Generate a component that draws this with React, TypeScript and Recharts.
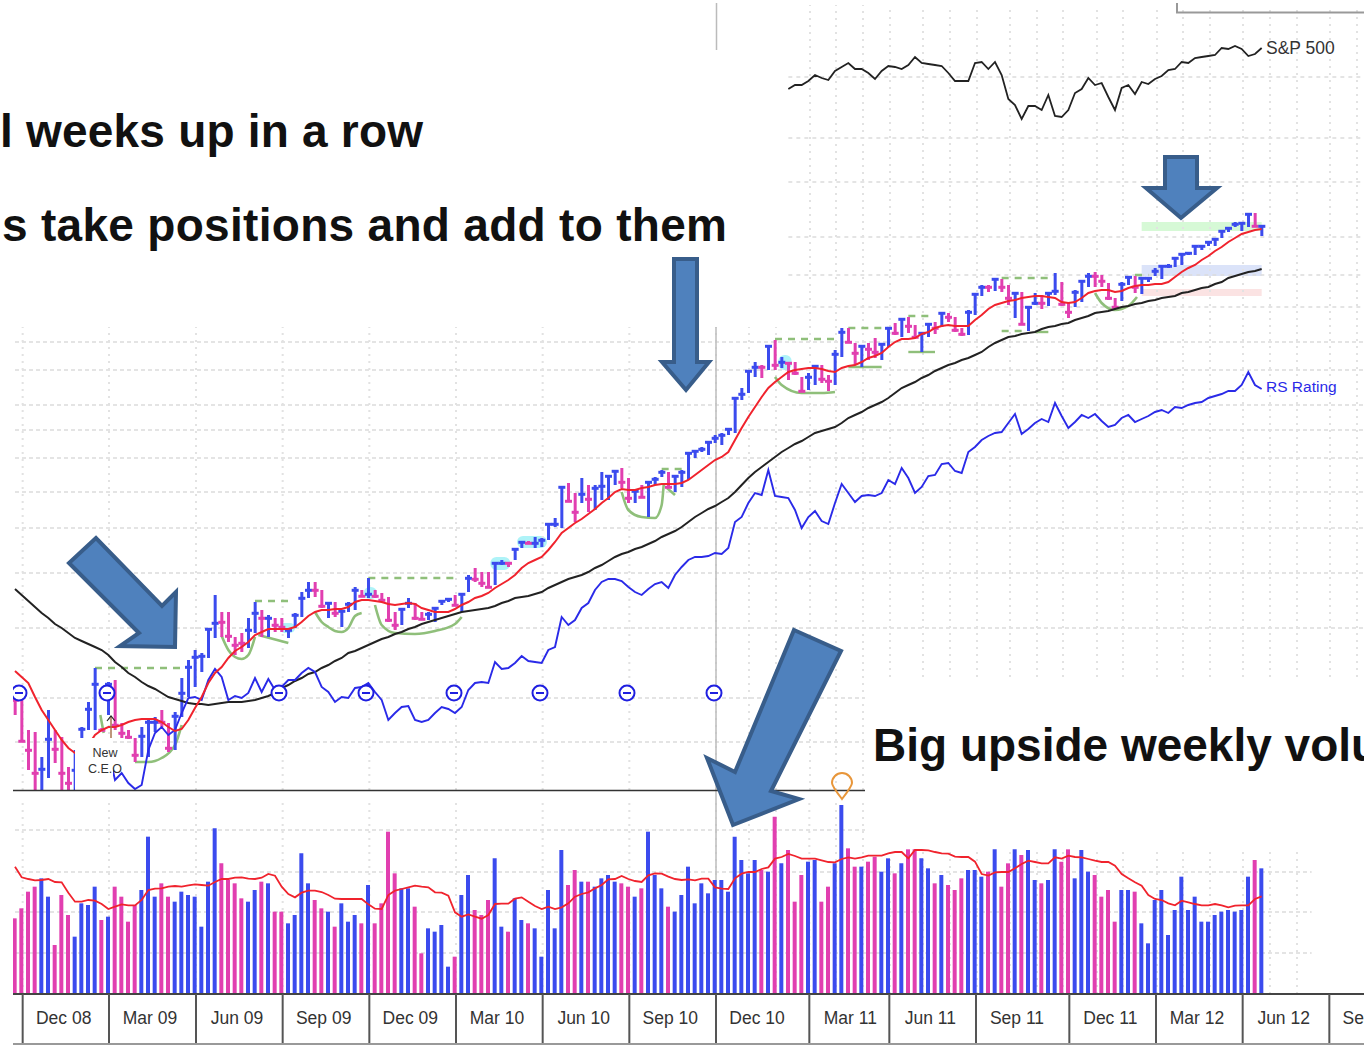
import { Bar, Cell, ComposedChart, Line, ReferenceArea, ReferenceDot, ReferenceLine, XAxis, YAxis } from "recharts";

// weekly price bars, one entry per week from late Nov 08 to May 12
const highs = [
  97, 93, 60, 58, 33, 80, 60, 53, 23, 40,
  63, 88, 122, 62, 108, 110, 67, 60, 52, 63,
  72, 73, 80, 67, 78, 112, 130, 140, 137, 162,
  195, 178, 178, 153, 157, 172, 188, 180, 175, 172,
  172, 162, 177, 198, 208, 208, 200, 188, 188, 180,
  188, 203, 200, 212, 200, 197, 193, 178, 182, 192,
  187, 178, 178, 183, 190, 192, 195, 197, 215, 222,
  218, 218, 228, 230, 228, 242, 249, 249, 253, 252,
  267, 272, 303, 307, 297, 312, 305, 305, 318, 315,
  320, 322, 312, 300, 305, 308, 313, 320, 318, 315,
  320, 337, 340, 343, 349, 355, 357, 362, 393, 402,
  420, 428, 425, 445, 450, 433, 428, 428, 413, 417,
  425, 425, 415, 440, 462, 462, 447, 445, 447, 452,
  447, 463, 467, 472, 473, 465, 458, 467, 468, 478,
  477, 473, 462, 480, 497, 505, 505, 512, 511, 505,
  498, 498, 483, 497, 495, 498, 517, 508, 488, 500,
  510, 517, 518, 515, 507, 492, 508, 514, 514, 513,
  513, 522, 525, 526, 533, 537, 538, 545, 545, 549,
  552, 560, 563, 568, 567, 577, 577, 565,
];
const lows = [
  75, 48, 20, 0, 0, 12, 27, 0, 0, 0,
  45, 60, 60, 59, 75, 60, 52, 51, 28, 33,
  33, 58, 63, 38, 40, 73, 93, 103, 118, 132,
  152, 153, 148, 135, 138, 142, 157, 153, 153, 158,
  158, 152, 162, 173, 192, 193, 182, 172, 173, 163,
  178, 180, 193, 192, 192, 188, 168, 160, 165, 182,
  170, 170, 170, 168, 185, 188, 184, 178, 198, 208,
  203, 202, 205, 225, 223, 230, 242, 246, 242, 243,
  250, 263, 262, 288, 268, 287, 278, 280, 290, 290,
  305, 302, 287, 287, 292, 273, 305, 313, 302, 298,
  303, 310, 332, 338, 335, 347, 345, 355, 357, 390,
  397, 413, 412, 420, 420, 422, 410, 415, 398, 400,
  405, 407, 399, 405, 433, 447, 425, 423, 430, 432,
  430, 443, 455, 453, 457, 452, 438, 453, 456, 463,
  468, 458, 454, 455, 475, 494, 498, 499, 498, 485,
  472, 465, 459, 485, 481, 484, 495, 484, 472, 483,
  488, 503, 503, 503, 490, 483, 489, 505, 497, 496,
  508, 514, 511, 522, 523, 525, 535, 535, 540, 544,
  544, 552, 558, 563, 559, 563, 563, 554,
];
const closes = [
  90, 49, 40, 17, 21, 51, 41, 17, 7, 20,
  61, 81, 106, 60, 106, 65, 57, 53, 35, 54,
  68, 68, 68, 42, 74, 97, 123, 133, 134, 161,
  167, 168, 154, 145, 147, 160, 177, 172, 172, 165,
  163, 160, 175, 192, 200, 200, 184, 187, 177, 179,
  186, 200, 194, 196, 194, 190, 170, 165, 181, 187,
  172, 171, 176, 182, 189, 191, 185, 196, 212, 211,
  207, 203, 227, 227, 227, 241, 248, 247, 247, 250,
  266, 266, 303, 289, 278, 296, 291, 302, 304, 314,
  319, 308, 292, 299, 293, 308, 311, 318, 303, 314,
  318, 337, 339, 341, 348, 352, 355, 361, 392, 396,
  419, 423, 423, 444, 425, 428, 427, 417, 399, 413,
  424, 411, 409, 436, 458, 448, 437, 444, 441, 438,
  446, 462, 457, 471, 464, 453, 457, 466, 462, 477,
  473, 460, 456, 478, 496, 503, 503, 511, 503, 492,
  497, 466, 483, 487, 487, 497, 499, 486, 478, 498,
  509, 514, 514, 509, 492, 483, 506, 513, 503, 512,
  512, 519, 524, 524, 532, 536, 537, 544, 544, 548,
  551, 559, 562, 566, 567, 576, 564, 564,
];
// u = up week (blue), d = down week (pink)
const weekDirections = (
  "dddduudddu" + "uuududdddu" + "uudduuuuuu" + "udddduudud" + "duuuuddudu" +
  "uududddduu" + "dduuuuduud" + "dduuduuduu" + "uuudduduuu" + "udduduuudu" +
  "uuuuuuuuuu" + "uudududddu" + "udduuddudd" + "uududduudu" + "ddduuududd" +
  "uduuduuddu" + "uudddduudu" + "uuuuuuuuuu" + "uuuuuudu"
).split("");

const redAverage = [
  119, 113, 107, 93, 80, 70, 60, 50, 42, 37,
  38, 45, 55, 60, 63, 63, 65, 68, 70, 71,
  71, 71, 68, 63, 59, 61, 70, 82, 93, 107,
  117, 123, 132, 139, 143, 148, 155, 158, 161, 161,
  161, 161, 163, 168, 174, 178, 180, 180, 181, 181,
  183, 188, 190, 190, 189, 188, 186, 185, 186, 187,
  186, 182, 180, 178, 178, 178, 181, 185, 188, 192,
  194, 197, 202, 206, 210, 215, 222, 227, 230, 233,
  240, 248, 257, 262, 267, 271, 276, 281, 287, 292,
  298, 301, 300, 300, 302, 303, 305, 306, 306, 306,
  307, 310, 315, 320, 325, 330, 333, 338, 350, 362,
  373, 383, 393, 402, 408, 413, 418, 420, 421, 422,
  422, 421, 419, 418, 422, 424, 425, 428, 432, 434,
  437, 443, 448, 451, 451, 452, 456, 458, 462, 464,
  465, 464, 464, 464, 470, 475, 481, 485, 487, 489,
  490, 492, 493, 494, 494, 493, 492, 488, 487, 488,
  492, 497, 499, 500, 500, 498, 499, 502, 504, 505,
  505, 506, 506, 508, 513, 518, 522, 525, 530, 534,
  539, 543, 548, 552, 556, 558, 560, 561,
];
const blackAverage = [
  201, 195, 189, 183, 177, 172, 166, 162, 157, 152,
  149, 146, 143, 140, 135, 128, 123, 117, 113, 108,
  104, 101, 97, 93, 91, 89, 87, 86, 86, 85,
  86, 87, 88, 88, 88, 89, 90, 92, 94, 97,
  102, 105, 109, 112, 116, 118, 122, 125, 129, 132,
  137, 139, 142, 145, 148, 151, 153, 156, 158, 161,
  163, 166, 168, 170, 172, 174, 176, 178, 179, 180,
  181, 182, 184, 187, 189, 192, 193, 194, 196, 198,
  202, 205, 208, 211, 213, 215, 218, 222, 225, 229,
  233, 236, 238, 241, 243, 246, 249, 253, 256, 259,
  263, 268, 273, 277, 281, 284, 288, 292, 298, 305,
  312, 318, 323, 328, 333, 338, 342, 346, 349, 353,
  357, 359, 361, 363, 367, 372, 375, 378, 382, 385,
  388, 392, 397, 402, 405, 408, 412, 415, 419, 422,
  425, 427, 430, 432, 435, 438, 443, 447, 450, 453,
  454, 456, 457, 458, 461, 463, 464, 466, 467, 470,
  472, 474, 477, 478, 479, 481, 483, 484, 486, 487,
  489, 490, 492, 493, 494, 497, 498, 500, 502, 503,
  506, 508, 512, 514, 516, 518, 519, 521,
];
const rsRating = [
  null, null, null, null, null, null, null, null, null, 0,
  17, 30, 40, 45, 40, 10, 17, 7, 1, 5,
  40, 57, 63, 55, 60, 77, 92, 93, 90, 110,
  121, 113, 90, 94, 92, 97, 112, 98, 111, 100,
  103, 110, 110, 117, 122, 118, 103, 98, 88, 93,
  92, 102, 103, 107, 98, 90, 70, 77, 83, 84,
  70, 68, 70, 77, 83, 81, 77, 83, 100, 107,
  108, 107, 128, 121, 122, 127, 134, 129, 128, 127,
  140, 143, 173, 165, 170, 182, 187, 200, 208, 211,
  211, 209, 203, 198, 195, 201, 206, 208, 202, 215,
  223, 230, 233, 233, 234, 237, 236, 242, 268, 273,
  287, 297, 295, 320, 294, 293, 292, 280, 262, 273,
  279, 269, 266, 287, 306, 297, 288, 294, 295, 294,
  297, 310, 306, 322, 312, 297, 303, 314, 315, 326,
  327, 319, 317, 338, 343, 350, 354, 357, 358, 367,
  376, 356, 361, 367, 371, 368, 387, 374, 362, 368,
  375, 372, 376, 369, 363, 365, 372, 375, 368, 371,
  374, 378, 380, 377, 383, 382, 385, 387, 388, 392,
  394, 396, 399, 399, 405, 418, 405, 401,
];
const spxWeeksMissing = 116;
const spxValues = [
  701, 705, 705, 709, 715, 712, 710, 719, 723, 727,
  721, 721, 717, 711, 719, 724, 723, 721, 725, 733,
  727, 726, 725, 724, 717, 709, 709, 709, 727, 728,
  721, 728, 715, 691, 685, 671, 684, 684, 680, 695,
  674, 673, 680, 697, 701, 712, 705, 707, 693, 680,
  702, 705, 696, 708, 706, 711, 714, 720, 721, 728,
  727, 732, 733, 734, 735, 742, 741, 744, 741, 734,
  736, 742,
];
const volumes = [
  227, 257, 307, 322, 347, 292, 147, 297, 237, 172,
  272, 267, 322, 222, 232, 322, 292, 217, 267, 312,
  472, 292, 332, 292, 277, 307, 297, 292, 202, 337,
  497, 392, 342, 332, 287, 277, 312, 337, 332, 247,
  247, 212, 237, 422, 332, 282, 257, 247, 202, 272,
  217, 237, 212, 327, 212, 272, 487, 362, 317, 317,
  262, 122, 197, 187, 207, 82, 112, 297, 357, 252,
  237, 282, 407, 202, 187, 287, 222, 212, 197, 112,
  312, 197, 432, 327, 372, 337, 337, 322, 347, 357,
  337, 332, 322, 292, 317, 487, 357, 317, 262, 247,
  297, 382, 272, 332, 302, 342, 342, 307, 472, 402,
  362, 402, 372, 367, 532, 392, 432, 277, 357, 397,
  402, 277, 322, 392, 567, 437, 382, 382, 397, 412,
  367, 407, 362, 392, 434, 434, 407, 377, 332, 357,
  327, 312, 347, 372, 372, 352, 367, 434, 322, 392,
  434, 417, 432, 342, 332, 342, 434, 397, 434, 347,
  432, 367, 357, 292, 312, 217, 312, 312, 307, 212,
  152, 282, 312, 177, 252, 352, 252, 292, 217, 217,
  237, 247, 252, 247, 252, 352, 402, 377,
];
const volumeAverage = [
  382, 350, 345, 341, 342, 345, 336, 335, 304, 277,
  277, 282, 280, 270, 255, 262, 269, 266, 266, 282,
  312, 316, 317, 322, 324, 322, 326, 329, 327, 325,
  336, 345, 345, 349, 350, 346, 345, 349, 360, 355,
  322, 300, 290, 304, 310, 310, 306, 297, 286, 285,
  285, 285, 285, 269, 256, 255, 297, 310, 315, 320,
  325, 322, 320, 305, 304, 295, 245, 232, 239, 232,
  226, 237, 270, 271, 271, 286, 290, 277, 264, 255,
  262, 255, 260, 272, 292, 300, 305, 317, 327, 344,
  345, 354, 345, 339, 336, 356, 362, 361, 352, 345,
  342, 344, 341, 346, 346, 320, 316, 315, 347, 361,
  366, 366, 375, 380, 406, 411, 420, 414, 406, 406,
  406, 401, 396, 395, 405, 410, 406, 410, 415, 415,
  415, 422, 426, 426, 407, 432, 432, 431, 426, 422,
  421, 412, 411, 411, 397, 360, 355, 365, 366, 366,
  377, 390, 400, 396, 392, 392, 410, 406, 415, 411,
  410, 405, 400, 396, 396, 385, 360, 347, 335, 325,
  297, 285, 282, 272, 266, 280, 275, 270, 266, 266,
  270, 266, 260, 265, 266, 266, 285, 293,
];

const tickLabels = ["Dec 08", "Mar 09", "Jun 09", "Sep 09", "Dec 09", "Mar 10", "Jun 10", "Sep 10", "Dec 10", "Mar 11", "Jun 11", "Sep 11", "Dec 11", "Mar 12", "Jun 12", "Sep 12"];
const tickWeeks = [1.15, 14.1, 27.15, 40.15, 53.15, 66.15, 79.15, 92.15, 105.15, 119.15, 131.15, 144.15, 158.15, 171.15, 184.15, 197.15];
const midMonthWeeks = [110.1, 114.15];
const monthWeeks = [119.25, 123.15, 127.2, 131.25, 136.2, 140.25, 144.3, 149.25, 153.3, 157.2, 162.3, 166.2, 171.3, 175.2, 179.25, 184.2, 188.25, 192.3, 197.25, 201.3];
const eventWeeks = [0.6, 13.8, 39.6, 52.65, 65.85, 78.75, 91.8, 104.85];

const upperGridLevels = [713, 652, 608, 553, 515, 483];
const middleGridLevels = [448, 420, 385, 360, 332, 298, 262, 217, 162];
const lowerGridLevels = [92, 48];
const volumeGridUpper = [492];
const volumeGridLower = [366, 246, 123];

const cupOne = [{ week: 18, v: 28 }, { week: 20, v: 28 }, { week: 22, v: 32 }, { week: 24, v: 45 }, { week: 25, v: 65 }];
const cupTwo = [{ week: 31, v: 154 }, { week: 32, v: 140 }, { week: 33, v: 133 }, { week: 34, v: 131 }, { week: 35, v: 135 }, { week: 36, v: 153 }];
const handleTwo = [{ week: 36.5, v: 155 }, { week: 41, v: 147 }];
const cupThree = [{ week: 45, v: 178 }, { week: 46, v: 168 }, { week: 47, v: 163 }, { week: 48, v: 159 }, { week: 49, v: 158 }, { week: 50, v: 162 }, { week: 51, v: 174 }, { week: 52, v: 177 }];
const cupFour = [{ week: 54, v: 185 }, { week: 55, v: 165 }, { week: 57, v: 157 }, { week: 60, v: 156 }, { week: 63, v: 159 }, { week: 66, v: 166 }, { week: 67, v: 173 }];
const cupFive = [{ week: 91, v: 298 }, { week: 92, v: 280 }, { week: 94, v: 273 }, { week: 96, v: 272 }, { week: 97, v: 285 }, { week: 97.3, v: 305 }];
const handleFive = [{ week: 97.8, v: 302 }, { week: 99, v: 295 }];
const cupSix = [{ week: 114, v: 413 }, { week: 115, v: 405 }, { week: 118, v: 397 }, { week: 121, v: 397 }, { week: 123, v: 398 }];
const cupSeven = [{ week: 162, v: 497 }, { week: 163, v: 487 }, { week: 165, v: 480 }, { week: 167, v: 484 }, { week: 168.3, v: 493 }];
const handleOne = [{ week: 12.8, v: 75 }, { week: 13.3, v: 57 }];
const cups = [cupOne, cupTwo, handleTwo, cupThree, cupFour, cupFive, handleFive, cupSix, cupSeven, handleOne];

// [from week, to week, level]
const dashedBases: number[][] = [[12, 25, 122], [36, 41, 189], [53, 66, 212], [97, 100, 321], [114, 123.5, 451], [125, 131, 462], [134, 137, 474], [148, 155, 512], [148, 151, 459], [168, 170, 515]];
const solidBases: number[][] = [[125, 130, 423], [134, 138, 438], [153, 155, 458]];
// [from week, to week, low, high]
const highlightZones: number[][] = [[71.3, 74.3, 220, 233], [75.3, 79.8, 242, 254], [52.3, 54.3, 191, 203], [114.5, 116.5, 420, 435], [39.7, 42, 157, 167]];

const BLUE = "#3b4bee";
const PINK = "#e13fb0";
const GREEN = "#8fbf7a";
const GRID_H = "#dcdcdc";
const GRID_V = "#e2e2e2";
const X_DOMAIN = [-2.25, 202.35];
const PRICE_DOMAIN = [-204, 790];
const VOLUME_DOMAIN = [0, 2982];

const weekTable = highs.map((high, i) => ({
  week: i,
  range: [lows[i], high],
  high,
  low: lows[i],
  close: closes[i],
  direction: weekDirections[i],
  red: redAverage[i],
  black: blackAverage[i],
  rs: rsRating[i],
  spx: i < spxWeeksMissing ? null : spxValues[i - spxWeeksMissing],
  volume: volumes[i],
  volumeAvg: volumeAverage[i],
}));

function PriceBar(props: any) {
  const { x, y, width, height, payload } = props;
  const color = payload.direction === "u" ? BLUE : PINK;
  const span = payload.high - payload.low || 1;
  const closeY = y + ((payload.high - payload.close) / span) * Math.abs(height);
  return (
    <g>
      <rect x={x} y={y} width={width} height={Math.max(Math.abs(height), 2)} fill={color} />
      <rect x={x - 2} y={closeY - 1.2} width={width + 4} height={3} fill={color} />
    </g>
  );
}

function QuarterTick(props: any) {
  const { x, payload } = props;
  const label = tickLabels[tickWeeks.indexOf(payload.value)];
  return (
    <g>
      <line x1={x} x2={x} y1={994} y2={1045} stroke="#555" strokeWidth={2} />
      <text x={x + 41} y={1024} textAnchor="middle" fontFamily="Liberation Sans" fontSize={17.5} fill="#333">
        {label}
      </text>
    </g>
  );
}

function EventDot(props: any) {
  const { cx, cy } = props;
  return (
    <g>
      <circle cx={cx} cy={cy} r={7.5} fill="#fff" stroke="#1f1fe0" strokeWidth={2} />
      <rect x={cx - 4} y={cy - 1} width={8} height={2} fill="#1f1fe0" />
    </g>
  );
}

// grid, zones and base markings sit under the bars, so they get their own chart below
function BackgroundChart() {
  return (
    <ComposedChart width={1364} height={1045} data={weekTable} margin={{ top: 0, right: 0, bottom: 51, left: 0 }}>
      <XAxis type="number" dataKey="week" domain={X_DOMAIN} allowDataOverflow hide />
      <YAxis yAxisId="price" domain={PRICE_DOMAIN} allowDataOverflow hide />
      <YAxis yAxisId="vol" domain={VOLUME_DOMAIN} allowDataOverflow hide />

      {upperGridLevels.map((v) => (
        <ReferenceLine key={`u${v}`} yAxisId="price" segment={[{ x: 116, y: v }, { x: 202.35, y: v }]} stroke={GRID_H} strokeWidth={1.5} strokeDasharray="4 4" />
      ))}
      {middleGridLevels.map((v) => (
        <ReferenceLine key={`m${v}`} yAxisId="price" segment={[{ x: 0, y: v }, { x: 202.35, y: v }]} stroke={GRID_H} strokeWidth={1.5} strokeDasharray="4 3" />
      ))}
      {lowerGridLevels.map((v) => (
        <ReferenceLine key={`l${v}`} yAxisId="price" segment={[{ x: 0, y: v }, { x: 127.5, y: v }]} stroke={GRID_H} strokeWidth={1.5} strokeDasharray="4 3" />
      ))}
      {tickWeeks.slice(0, 9).concat(midMonthWeeks).map((w) => (
        <ReferenceLine key={`q${w}`} yAxisId="price" segment={[{ x: w, y: 0 }, { x: w, y: 463 }]} stroke={GRID_V} strokeWidth={2} strokeDasharray="2 5" />
      ))}
      {monthWeeks.slice(0, 3).map((w) => (
        <ReferenceLine key={`c${w}`} yAxisId="price" segment={[{ x: w, y: 0 }, { x: w, y: 785 }]} stroke={GRID_V} strokeWidth={2} strokeDasharray="2 5" />
      ))}
      {monthWeeks.slice(3).map((w) => (
        <ReferenceLine key={`a${w}`} yAxisId="price" segment={[{ x: w, y: 113 }, { x: w, y: 785 }]} stroke={GRID_V} strokeWidth={2} strokeDasharray="2 5" />
      ))}
      {tickWeeks.slice(0, 10).concat(midMonthWeeks).map((w) => (
        <ReferenceLine key={`v${w}`} yAxisId="vol" segment={[{ x: w, y: 0 }, { x: w, y: 582 }]} stroke={GRID_V} strokeWidth={2} strokeDasharray="2 5" />
      ))}
      {monthWeeks.slice(1, 18).map((w) => (
        <ReferenceLine key={`b${w}`} yAxisId="vol" segment={[{ x: w, y: 0 }, { x: w, y: w < 128 ? 582 : 434 }]} stroke={GRID_V} strokeWidth={2} strokeDasharray="2 5" />
      ))}
      {volumeGridUpper.map((v) => (
        <ReferenceLine key={`vu${v}`} yAxisId="vol" segment={[{ x: 0, y: v }, { x: 127.5, y: v }]} stroke={GRID_H} strokeWidth={1.5} strokeDasharray="4 3" />
      ))}
      {volumeGridLower.map((v) => (
        <ReferenceLine key={`vl${v}`} yAxisId="vol" segment={[{ x: 0, y: v }, { x: 194.5, y: v }]} stroke={GRID_H} strokeWidth={1.5} strokeDasharray="4 3" />
      ))}
      <ReferenceLine yAxisId="price" segment={[{ x: 105.15, y: 463 }, { x: 105.15, y: -204 }]} stroke="#bdbdbd" strokeWidth={1.5} />

      {highlightZones.map(([a, b, lo, hi]) => (
        <ReferenceArea key={`h${a}`} yAxisId="price" x1={a} x2={b} y1={lo} y2={hi} fill="#aef3f8" fillOpacity={1} stroke="none" radius={6} />
      ))}
      <ReferenceArea yAxisId="price" x1={169} x2={187} y1={559} y2={568} fill="#d6f9d6" fillOpacity={1} stroke="none" />
      <ReferenceArea yAxisId="price" x1={169} x2={187} y1={514} y2={525} fill="#dbe3f9" fillOpacity={1} stroke="none" />
      <ReferenceArea yAxisId="price" x1={169} x2={187} y1={494} y2={501} fill="#fbe3e3" fillOpacity={1} stroke="none" />

      {dashedBases.map(([a, b, v]) => (
        <ReferenceLine key={`d${a}${v}`} yAxisId="price" segment={[{ x: a, y: v }, { x: b, y: v }]} stroke={GREEN} strokeWidth={2.4} strokeDasharray="7 6" />
      ))}
      {solidBases.map(([a, b, v]) => (
        <ReferenceLine key={`s${a}${v}`} yAxisId="price" segment={[{ x: a, y: v }, { x: b, y: v }]} stroke={GREEN} strokeWidth={2.4} />
      ))}
      {cups.map((cup, i) => (
        <Line key={i} data={cup} dataKey="v" yAxisId="price" type="monotone" stroke={GREEN} strokeWidth={2.6} dot={false} isAnimationActive={false} />
      ))}
    </ComposedChart>
  );
}

function Annotations() {
  const arrow = { fill: "#4f81bd", stroke: "#385d8a", strokeWidth: 4 };
  return (
    <svg width={1364} height={1045} style={{ position: "absolute", left: 0, top: 0 }}>
      <rect x={0} y={560} width={13} height={485} fill="#fff" />
      <rect x={75} y={738} width={38} height={52} fill="#fff" />
      <line x1={111} y1={738} x2={111} y2={717} stroke="#a9744f" strokeWidth={1.5} />
      <path d="M107 721 L111 716 L115 721" fill="none" stroke="#222" strokeWidth={1.2} />
      <text x={105} y={757} textAnchor="middle" fontFamily="Liberation Sans" fontSize={12.5} fill="#333">New</text>
      <text x={105} y={773} textAnchor="middle" fontFamily="Liberation Sans" fontSize={12.5} fill="#333">C.E.O</text>
      <line x1={13} y1={790.5} x2={865} y2={790.5} stroke="#333" strokeWidth={1.5} />
      <line x1={13} y1={1044} x2={1364} y2={1044} stroke="#999" strokeWidth={2} />
      <path d="M1177 3 V12.5 H1364" fill="none" stroke="#999" strokeWidth={2} />
      <line x1={716.5} y1={3} x2={716.5} y2={50} stroke="#bbb" strokeWidth={1.5} />
      <text x={1266} y={54} fontFamily="Liberation Sans" fontSize={17.5} fill="#333">S&amp;P 500</text>
      <text x={1266} y={392} fontFamily="Liberation Sans" fontSize={15.5} fill="#2a2ae8">RS Rating</text>
      <polygon points="1165,157 1197,157 1197,188 1217,188 1181,218 1146,188 1165,188" {...arrow} />
      <polygon points="674,259 697,259 697,362 709,362 686,390 662,362 674,362" {...arrow} />
      <polygon points="96,538 69,563 139,633 120,646 175,647 176,592 162,606" {...arrow} />
      <polygon points="794,630 841,651 771,791 799,799 733,825 707,758 735,772" {...arrow} />
      <text x={0} y={147} fontFamily="Liberation Sans" fontWeight="bold" fontSize={46} fill="#111" textLength={423} lengthAdjust="spacing">l weeks up in a row</text>
      <text x={2} y={241} fontFamily="Liberation Sans" fontWeight="bold" fontSize={46} fill="#111" textLength={725} lengthAdjust="spacing">s take positions and add to them</text>
      <text x={873} y={761} fontFamily="Liberation Sans" fontWeight="bold" fontSize={46} fill="#111">Big upside weekly volume</text>
      <path d="M842 799 C835 790 832 786 832 783 A10 10 0 1 1 852 783 C852 786 849 790 842 799 Z" fill="none" stroke="#e8963a" strokeWidth={2} />
    </svg>
  );
}

export default function App() {
  return (
    <div style={{ position: "absolute", left: 0, top: 0, width: 1364, height: 1045, background: "#fff", overflow: "hidden" }}>
      <div style={{ position: "absolute", left: 0, top: 0 }}>
        <BackgroundChart />
      </div>
      <div style={{ position: "absolute", left: 0, top: 0 }}>
        <ComposedChart width={1364} height={1045} data={weekTable} margin={{ top: 0, right: 0, bottom: 0, left: 0 }}>
          <XAxis
            type="number"
            dataKey="week"
            domain={X_DOMAIN}
            allowDataOverflow
            ticks={tickWeeks}
            interval={0}
            tick={<QuarterTick />}
            tickLine={false}
            height={51}
            stroke="#444"
            strokeWidth={2}
          />
          <XAxis xAxisId="bars" type="number" dataKey="week" domain={X_DOMAIN} allowDataOverflow hide />
          <YAxis yAxisId="price" domain={PRICE_DOMAIN} allowDataOverflow hide />
          <YAxis yAxisId="vol" domain={VOLUME_DOMAIN} allowDataOverflow hide />

          <Bar dataKey="volume" yAxisId="vol" barSize={4} isAnimationActive={false}>
            {weekTable.map((d) => (
              <Cell key={d.week} fill={d.direction === "u" ? BLUE : PINK} />
            ))}
          </Bar>
          <Line dataKey="volumeAvg" yAxisId="vol" stroke="#f0232d" strokeWidth={1.8} dot={false} isAnimationActive={false} />

          <Bar dataKey="range" xAxisId="bars" yAxisId="price" barSize={3} shape={<PriceBar />} isAnimationActive={false} />

          <Line dataKey="black" yAxisId="price" stroke="#222" strokeWidth={2} dot={false} isAnimationActive={false} />
          <Line dataKey="rs" yAxisId="price" stroke="#2a2ae8" strokeWidth={1.9} dot={false} isAnimationActive={false} />
          <Line dataKey="red" yAxisId="price" stroke="#f0232d" strokeWidth={2} dot={false} isAnimationActive={false} />
          <Line dataKey="spx" yAxisId="price" stroke="#222" strokeWidth={1.8} dot={false} isAnimationActive={false} />

          {eventWeeks.map((w) => (
            <ReferenceDot key={w} x={w} y={97} yAxisId="price" r={8} shape={<EventDot />} />
          ))}
        </ComposedChart>
      </div>
      <Annotations />
    </div>
  );
}
